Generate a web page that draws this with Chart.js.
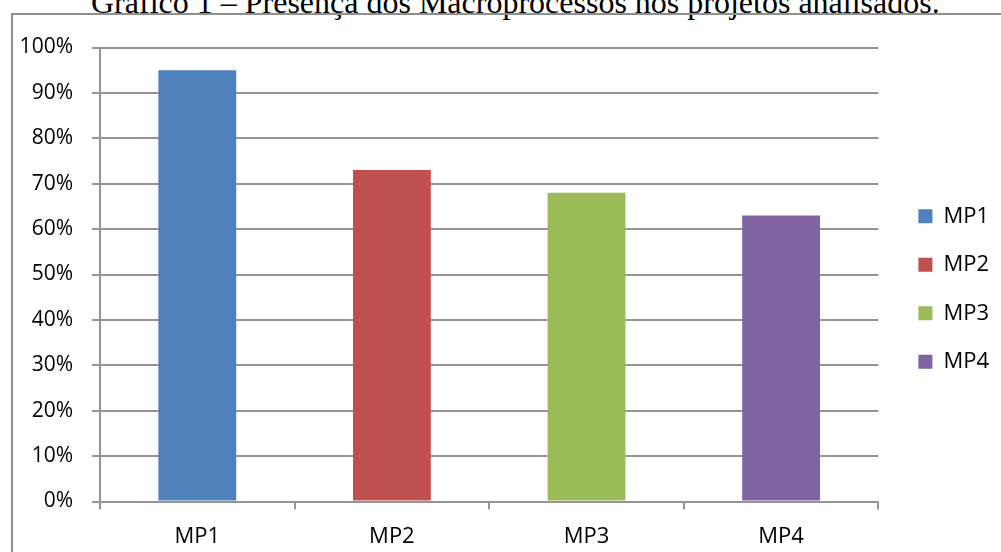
<!DOCTYPE html>
<html>
<head>
<meta charset="utf-8">
<script src="https://cdn.jsdelivr.net/npm/chart.js@4"></script>
<style>
  html, body { margin: 0; padding: 0; background: #fff; width: 1001px; height: 552px; overflow: hidden; }
  #title { position: absolute; left: 91px; top: -14px; font-family: "Liberation Serif", serif; font-size: 32px; line-height: 32px; white-space: nowrap; color: #000; }
  #box { position: absolute; left: 11px; top: 13px; width: 1100px; height: 700px; border: 2px solid #8f8f8f; box-sizing: border-box; }
  #wrap { position: absolute; left: 13px; top: 15px; width: 988px; height: 537px; }
</style>
</head>
<body>
<div id="title">Gráfico 1 – Presença dos Macroprocessos nos projetos analisados.</div>
<div id="box"></div>
<div id="wrap"><canvas id="c" width="988" height="537"></canvas></div>
<script>
const categories = ['MP1', 'MP2', 'MP3', 'MP4'];
const values = [95, 73, 68, 63];
const colors = ['#4F81BD', '#C0504D', '#9BBB59', '#8064A2'];
const yTicks = [0, 10, 20, 30, 40, 50, 60, 70, 80, 90, 100];

const gridColor = '#959595';

new Chart(document.getElementById('c'), {
  type: 'bar',
  data: {
    labels: categories,
    datasets: [{
      data: values,
      backgroundColor: colors,
      borderWidth: 0,
      categoryPercentage: 1,
      barPercentage: 0.4
    }]
  },
  options: {
    responsive: false,
    animation: false,
    layout: { padding: { top: 11, right: 2, bottom: 0, left: 0 } },
    plugins: {
      title: { display: false },
      tooltip: { enabled: false },
      legend: {
        position: 'right',
        labels: {
          boxWidth: 14,
          boxHeight: 14,
          padding: 26.5,
          color: '#000',
          font: { family: 'Open Sans', size: 22 },
          generateLabels: (chart) => chart.data.labels.map((l, i) => ({
            text: l,
            fillStyle: colors[i],
            strokeStyle: colors[i],
            lineWidth: 0,
            hidden: false,
            index: i
          }))
        }
      }
    },
    scales: {
      x: {
        offset: true,
        grid: { display: true, drawOnChartArea: false, drawTicks: true, tickLength: 8, offset: true, color: gridColor, lineWidth: 2 },
        border: { display: true, color: gridColor, width: 2 },
        ticks: { color: '#000', padding: 14, font: { family: 'Open Sans', size: 22 } },
        afterFit: (s) => { s.height = 50.5; }
      },
      y: {
        min: 0,
        max: 100,
        afterBuildTicks: (s) => { s.ticks = yTicks.map(v => ({ value: v })); },
        grid: { color: gridColor, lineWidth: 2, tickLength: 8 },
        border: { display: true, color: gridColor, width: 2 },
        ticks: { color: '#000', padding: 19, font: { family: 'Open Sans', size: 21 }, callback: (v) => v + '%' },
        afterFit: (s) => { s.width = 87; }
      },
      topSpacer: {
        type: 'linear', axis: 'x', position: 'top', display: true,
        grid: { display: false }, border: { display: false }, ticks: { display: false },
        afterFit: (s) => { s.height = 21.5; }
      },
      rightSpacer: {
        type: 'linear', axis: 'y', position: 'right', display: true,
        grid: { display: false }, border: { display: false }, ticks: { display: false },
        afterFit: (s) => { s.width = 13.5; }
      }
    }
  }
});
</script>
</body>
</html>
